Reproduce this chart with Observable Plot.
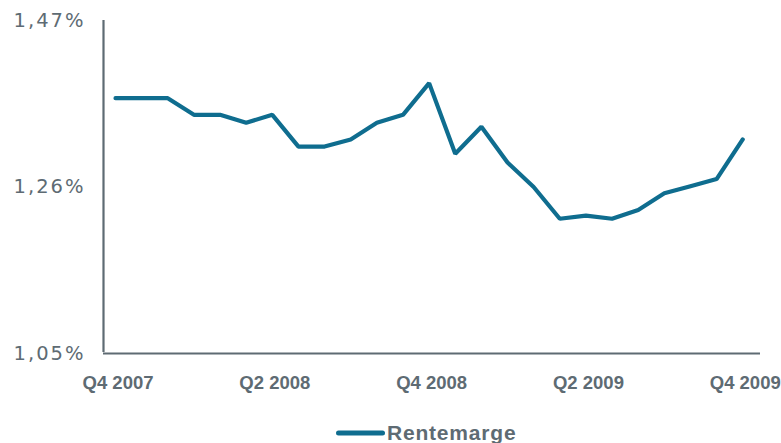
<!DOCTYPE html>
<html>
<head>
<meta charset="utf-8">
<script src="https://cdn.jsdelivr.net/npm/d3@7"></script>
<script src="https://cdn.jsdelivr.net/npm/@observablehq/plot@0.6"></script>
<style>
  html, body { margin: 0; padding: 0; background: #fff; }
  #chart { width: 781px; height: 443px; position: relative; overflow: hidden; }
  [aria-label="y-axis tick label"] { letter-spacing: 2px; }
  .legend { position: absolute; left: 336px; top: 421px; display: flex; align-items: center;
    font-family: "Liberation Sans", Arial, sans-serif; font-weight: bold; font-size: 21px;
    letter-spacing: 0.8px; color: #5e6b73; }
  .legend svg { display: block; margin-right: 2px; }
</style>
</head>
<body>
<div id="chart"></div>
<script>
const seriesName = "Rentemarge";
// monthly values, Dec 2007 .. Dec 2009 (percent)
const values = [1.372, 1.372, 1.372, 1.351, 1.351, 1.341, 1.351, 1.311, 1.311, 1.320, 1.341, 1.351,
                1.391, 1.302, 1.336, 1.291, 1.260, 1.220, 1.224, 1.220, 1.231, 1.252, 1.261, 1.270, 1.320];
const xTickIndex = [0, 6, 12, 18, 24];
const xTickLabels = ["Q4 2007", "Q2 2008", "Q4 2008", "Q2 2009", "Q4 2009"];
const yTicks = [1.05, 1.26, 1.47];

const lineColor = "#0f6d8f";
const gray = "#5e6b73";

const data = values.map((v, i) => ({i, v}));
const xDomain = [-0.46, 24.68];

const plot = Plot.plot({
  width: 781,
  height: 400,
  marginLeft: 103,
  marginRight: 21,
  marginTop: 20,
  marginBottom: 47,
  style: {background: "transparent", overflow: "visible"},
  x: {domain: xDomain, label: null},
  y: {domain: [d3.min(yTicks), d3.max(yTicks)], label: null},
  marks: [
    Plot.ruleX([xDomain[0]], {stroke: gray, strokeWidth: 2.2, y1: d3.min(yTicks), y2: d3.max(yTicks), insetTop: -1}),
    Plot.ruleY([d3.min(yTicks)], {stroke: gray, strokeWidth: 2.2}),
    Plot.axisY({ticks: yTicks, tickSize: 0, tickPadding: 18, label: null,
      tickFormat: d => d.toFixed(2).replace(".", ",") + "%",
      fontFamily: "DejaVu Sans", fontSize: 19.5, fill: gray}),
    Plot.axisX({ticks: xTickIndex, tickSize: 0, tickPadding: 22, dx: 2.5, label: null,
      tickFormat: d => xTickLabels[xTickIndex.indexOf(d)],
      fontFamily: "Liberation Sans", fontSize: 18.5, fontWeight: "bold", fill: gray}),
    Plot.lineY(data, {x: "i", y: "v", stroke: lineColor, strokeWidth: 4.2, strokeLinejoin: "miter", strokeLinecap: "round"})
  ]
});
const chart = document.getElementById("chart");
chart.appendChild(plot);

const legend = document.createElement("div");
legend.className = "legend";
legend.innerHTML = `<svg width="49" height="10"><line x1="2.5" y1="5" x2="46.5" y2="5" stroke="${lineColor}" stroke-width="5" stroke-linecap="round"/></svg><span>${seriesName}</span>`;
chart.appendChild(legend);
</script>
</body>
</html>
